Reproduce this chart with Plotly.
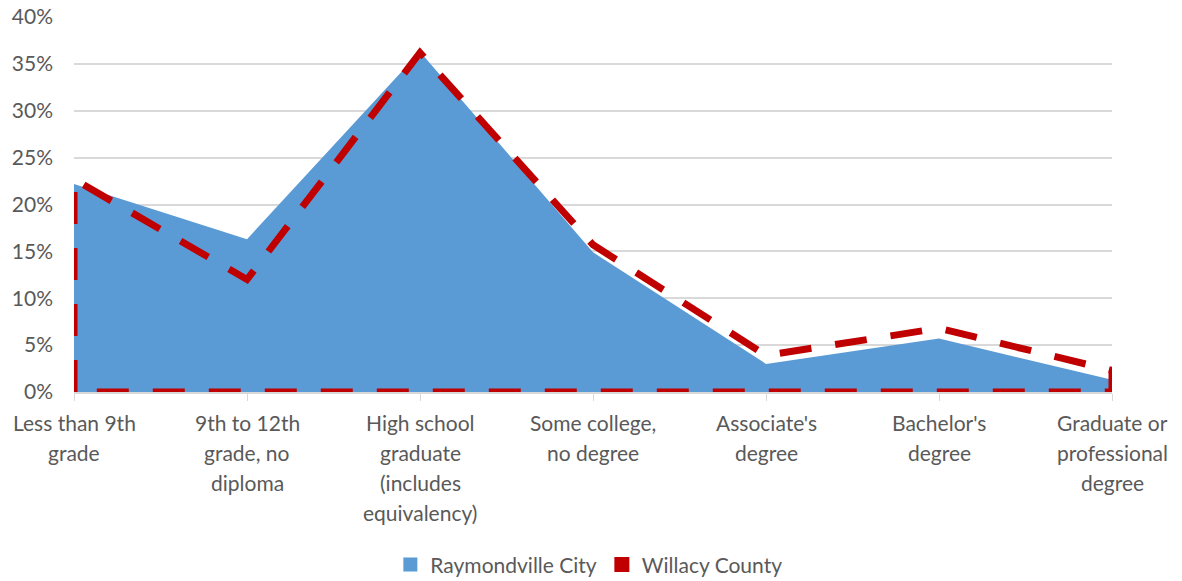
import plotly.graph_objects as go

# Educational attainment, population 25 years and over (share of total)
categories = [
    "Less than 9th grade",
    "9th to 12th grade, no diploma",
    "High school graduate (includes equivalency)",
    "Some college, no degree",
    "Associate's degree",
    "Bachelor's degree",
    "Graduate or professional degree",
]
# wrapped axis labels, one list of lines per category
category_lines = [
    ["Less than 9th", "grade"],
    ["9th to 12th", "grade, no", "diploma"],
    ["High school", "graduate", "(includes", "equivalency)"],
    ["Some college,", "no degree"],
    ["Associate's", "degree"],
    ["Bachelor's", "degree"],
    ["Graduate or", "professional", "degree"],
]
raymondville = [0.222, 0.163, 0.363, 0.149, 0.030, 0.057, 0.013]
willacy = [0.227, 0.120, 0.362, 0.157, 0.039, 0.068, 0.023]

BLUE = "#5B9BD5"
RED = "#C00000"
GRID = "#D9D9D9"
TEXT = "#595959"
FONT = "Lato"

fig = go.Figure()

# Raymondville City: filled area down to zero
fig.add_trace(go.Scatter(
    x=categories, y=raymondville, mode="lines",
    fill="tozeroy", fillcolor=BLUE, line=dict(width=0, color=BLUE),
    showlegend=False, hoverinfo="skip",
))

# Willacy County: unfilled area, dashed outline around the whole region
outline_x = [categories[0]] + categories + [categories[-1], categories[0]]
outline_y = [0] + willacy + [0, 0]
fig.add_trace(go.Scatter(
    x=outline_x, y=outline_y, mode="lines",
    line=dict(color=RED, width=7, dash="32px,24px"),
    showlegend=False, hoverinfo="skip",
))

# legend entries
fig.add_trace(go.Scatter(
    x=[None], y=[None], mode="markers", name="Raymondville City",
    marker=dict(symbol="square", size=14, color=BLUE),
))
fig.add_trace(go.Scatter(
    x=[None], y=[None], mode="markers", name="Willacy County",
    marker=dict(symbol="square", size=15, color=RED),
))

# category labels under the axis, one annotation per line
annotations = []
for cat, lines in zip(categories, category_lines):
    for i, line in enumerate(lines):
        annotations.append(dict(
            x=cat, y=0, xref="x", yref="y", text=line, showarrow=False,
            xanchor="center", yanchor="top", yshift=-16 - 30 * i,
            font=dict(family=FONT, size=21, color=TEXT),
        ))

fig.update_layout(
    width=1182, height=581,
    margin=dict(l=74, r=70, t=17, b=189, autoexpand=False),
    paper_bgcolor="white", plot_bgcolor="white",
    font=dict(family=FONT, size=21, color=TEXT),
    showlegend=True,
    legend=dict(
        orientation="h", x=0.496, xanchor="center", y=-0.461, yanchor="middle",
        font=dict(family=FONT, size=21, color=TEXT),
        itemwidth=30, bgcolor="rgba(0,0,0,0)",
    ),
    annotations=annotations,
    hovermode=False,
)

fig.update_xaxes(
    type="category", categoryorder="array", categoryarray=categories,
    range=[0, len(categories) - 1],
    showgrid=False, showticklabels=False,
    showline=True, linecolor=GRID, linewidth=2,
    ticks="outside", ticklen=7, tickcolor=GRID, tickwidth=1,
    zeroline=False,
)
fig.update_yaxes(
    range=[0, 0.40], dtick=0.05, tickformat=".0%",
    showgrid=True, gridcolor=GRID, gridwidth=1.5,
    zeroline=False, showline=False, ticks="",
    ticklabelstandoff=20,
    tickfont=dict(family=FONT, size=21, color=TEXT),
)

fig.write_html("out.html")
